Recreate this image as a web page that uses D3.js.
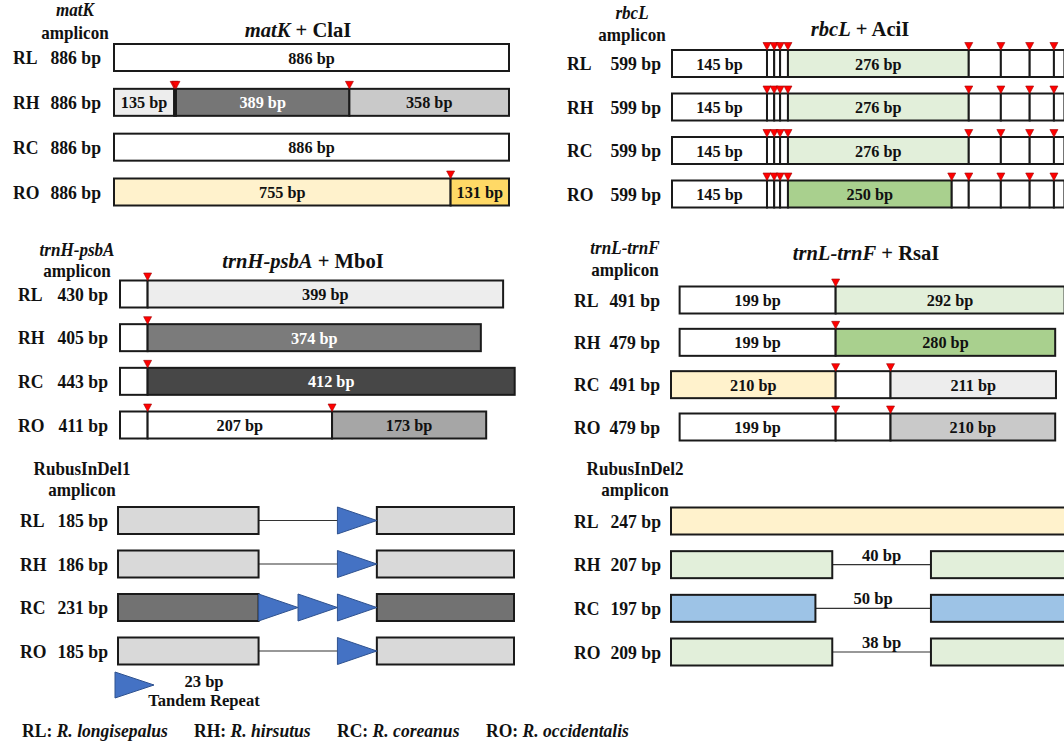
<!DOCTYPE html>
<html>
<head>
<meta charset="utf-8">
<script src="https://cdn.jsdelivr.net/npm/d3@7"></script>
<style>
  body { margin: 0; background: #fff; }
  svg text { font-family: "Liberation Serif", "Times New Roman", serif; font-weight: bold; fill: #111; }
</style>
</head>
<body>
<svg id="chart" width="1064" height="743"></svg>
<script>
// species
const species = ["RL", "RH", "RC", "RO"];
const speciesNames = ["R. longisepalus", "R. hirsutus", "R. coreanus", "R. occidentalis"];

// matK + ClaI
const matKSizes = [886, 886, 886, 886];
const matKFrags = [[886], [135, 4, 389, 358], [886], [755, 131]];

// rbcL + AciI
const rbcLSizes = [599, 599, 599, 599];
const rbcLFrags = [
  [145, 11, 9, 12, 276, 49, 44, 37, 16],
  [145, 11, 9, 12, 276, 49, 44, 37, 16],
  [145, 11, 9, 12, 276, 49, 44, 37, 16],
  [145, 11, 9, 12, 250, 26, 49, 44, 37, 16]
];

// trnH-psbA + MboI
const trnHSizes = [430, 405, 443, 411];
const trnHFrags = [[31, 399], [31, 374], [31, 412], [31, 207, 173]];

// trnL-trnF + RsaI
const trnLSizes = [491, 479, 491, 479];
const trnLFrags = [[199, 292], [199, 280], [210, 70, 211], [199, 70, 210]];

// RubusInDel1 (flanks + 23 bp tandem repeats)
const indel1Sizes = [185, 186, 231, 185];
const indel1Flanks = [82, 80];
const indel1RepeatBp = 23;
const indel1Repeats = [1, 1, 3, 1];

// RubusInDel2 (deletion start / end in aligned bp)
const indel2Sizes = [247, 207, 197, 209];
const indel2DelStart = [null, 67, 60, 67];
const indel2DelEnd = [null, 108, 108, 108];
const indel2DelBp = [null, 40, 50, 38];

// fills (styles kept apart from the data)
const W = "#ffffff";
const matKFill = [[W], ["#ededed", W, "#767676", "#c9c9c9"], [W], ["#fff2cc", "#ffd966"]];
const rbcLFill = rbcLFrags.map((f, i) => f.map((d, j) => j === 4 ? (i === 3 ? "#a9d08e" : "#e2efda") : W));
const trnHFill = [[W, "#ededed"], [W, "#7b7b7b"], [W, "#474747"], [W, W, "#a6a6a6"]];
const trnLFill = [[W, "#e2efda"], [W, "#a9d08e"], ["#fff2cc", W, "#ededed"], [W, W, "#c9c9c9"]];
const indel1Fill = ["#d9d9d9", "#d9d9d9", "#727272", "#d9d9d9"];
const indel2Fill = ["#fff2cc", "#e2efda", "#9dc3e6", "#e2efda"];
const darkFills = ["#767676", "#7b7b7b", "#474747"];

const svg = d3.select("#chart");
const BOX_H = 27;

// text drawn a little narrow, like the original figure
function txt(x, y, size, anchor, sx) {
  return svg.append("text")
    .attr("transform", `translate(${x},${y}) scale(${sx || 1},1)`)
    .attr("text-anchor", anchor || "start")
    .style("font-size", size + "px");
}

function geneLabel(cx, y1, y2, name, italic) {
  txt(cx, y1, 18, "middle", 0.95).style("font-style", italic ? "italic" : "normal").text(name);
  txt(cx, y2, 18, "middle", 0.95).text("amplicon");
}

function title(cx, y, gene, enzyme) {
  const t = txt(cx, y, 21, "middle", 0.98);
  t.append("tspan").style("font-style", "italic").text(gene);
  t.append("tspan").text(" + " + enzyme);
}

function rowLabels(y, codeX, sizeX, sizes) {
  species.forEach((s, i) => {
    txt(codeX, y(s) + 6.5, 19, "start", 0.93).text(s);
    txt(sizeX, y(s) + 6.5, 19, "end", 0.93).text(sizes[i] + " bp");
  });
}

function digest(frags, fills, x, y, offsets) {
  const g = svg.append("g");
  const marks = svg.append("g");
  species.forEach((s, i) => {
    let pos = offsets[i];
    const top = y(s) - BOX_H / 2;
    frags[i].forEach((bp, j) => {
      const x0 = x(pos), x1 = x(pos + bp);
      g.append("rect").attr("x", x0).attr("y", top).attr("width", x1 - x0).attr("height", BOX_H)
        .attr("fill", fills[i][j]).attr("stroke", "#1a1a1a").attr("stroke-width", 2);
      pos += bp;
      if (j < frags[i].length - 1) {
        const cx = x(pos);
        marks.append("path")
          .attr("d", `M${cx - 4},${top - 7.5}L${cx + 4},${top - 7.5}L${cx},${top}Z`)
          .attr("fill", "#ff0000").attr("stroke", "#a00000").attr("stroke-width", 0.6);
      }
    });
    pos = offsets[i];
    frags[i].forEach((bp, j) => {
      const x0 = x(pos), x1 = x(pos + bp);
      if (bp >= 100) {
        txt((x0 + x1) / 2, y(s) + 6, 17.5, "middle", 0.93)
          .style("fill", darkFills.includes(fills[i][j]) ? "#fff" : "#111")
          .text(bp + " bp");
      }
      pos += bp;
    });
  });
}

// ---- matK + ClaI
{
  const x = d3.scaleLinear().domain([0, 886]).range([114, 509]);
  const y = d3.scalePoint().domain(species).range([57.5, 192]);
  geneLabel(75, 16, 39, "matK", true);
  title(298, 37, "matK", "ClaI");
  rowLabels(y, 13, 101, matKSizes);
  digest(matKFrags, matKFill, x, y, [0, 0, 0, 0]);
}

// ---- rbcL + AciI
{
  const x = d3.scaleLinear().domain([0, 599]).range([672, 1064.4]);
  const y = d3.scalePoint().domain(species).range([63.5, 194]);
  geneLabel(632, 19, 41, "rbcL", true);
  title(860, 36, "rbcL", "AciI");
  rowLabels(y, 567, 661, rbcLSizes);
  digest(rbcLFrags, rbcLFill, x, y, [0, 0, 0, 0]);
}

// ---- trnH-psbA + MboI
{
  const x = d3.scaleLinear().domain([0, 443]).range([120, 514.7]);
  const y = d3.scalePoint().domain(species).range([294, 425]);
  geneLabel(77, 256, 277, "trnH-psbA", true);
  title(303, 268, "trnH-psbA", "MboI");
  rowLabels(y, 18, 108, trnHSizes);
  digest(trnHFrags, trnHFill, x, y, [0, 0, 0, 0]);
}

// ---- trnL-trnF + RsaI (rows aligned on first cut)
{
  const firstMax = d3.max(trnLFrags, f => f[0]);
  const offsets = trnLFrags.map(f => firstMax - f[0]);
  const x = d3.scaleLinear().domain([0, 502]).range([671, 1064.6]);
  const y = d3.scalePoint().domain(species).range([300, 427]);
  geneLabel(625, 254, 276, "trnL-trnF", true);
  title(866, 260, "trnL-trnF", "RsaI");
  rowLabels(y, 574, 660, trnLSizes);
  digest(trnLFrags, trnLFill, x, y, offsets);
}

function repeatTri(x0, x1, cy, h) {
  svg.append("path").attr("d", `M${x0},${cy - h / 2}L${x0},${cy + h / 2}L${x1},${cy}Z`)
    .attr("fill", "#4472c4").attr("stroke", "#2f528f").attr("stroke-width", 1);
}

// ---- RubusInDel1
{
  const maxRep = d3.max(indel1Repeats);
  const total = indel1Flanks[0] + maxRep * indel1RepeatBp + indel1Flanks[1];
  const x = d3.scaleLinear().domain([0, total]).range([118, 514]);
  const y = d3.scalePoint().domain(species).range([520.5, 651]);
  geneLabel(82, 475, 495.5, "RubusInDel1", false);
  rowLabels(y, 20, 108, indel1Sizes);
  species.forEach((s, i) => {
    const cy = y(s), top = cy - BOX_H / 2;
    const repStart = indel1Flanks[0] + (maxRep - indel1Repeats[i]) * indel1RepeatBp;
    const b2 = indel1Flanks[0] + maxRep * indel1RepeatBp;
    svg.append("line").attr("x1", x(indel1Flanks[0])).attr("x2", x(b2)).attr("y1", cy).attr("y2", cy)
      .attr("stroke", "#333").attr("stroke-width", 1.2);
    svg.append("rect").attr("x", x(0)).attr("y", top).attr("width", x(indel1Flanks[0]) - x(0)).attr("height", BOX_H)
      .attr("fill", indel1Fill[i]).attr("stroke", "#1a1a1a").attr("stroke-width", 2);
    svg.append("rect").attr("x", x(b2)).attr("y", top).attr("width", x(total) - x(b2)).attr("height", BOX_H)
      .attr("fill", indel1Fill[i]).attr("stroke", "#1a1a1a").attr("stroke-width", 2);
    for (let k = 0; k < indel1Repeats[i]; k++) {
      const a = repStart + k * indel1RepeatBp;
      repeatTri(x(a), x(a + indel1RepeatBp), cy, BOX_H);
    }
  });
  // legend
  repeatTri(115, 154, 685, 26);
  txt(204, 687, 17.5, "middle", 0.95).text(indel1RepeatBp + " bp");
  txt(204, 706, 17.5, "middle", 0.95).text("Tandem Repeat");
}

// ---- RubusInDel2
{
  const x = d3.scaleLinear().domain([0, 247]).range([671, 671 + 247 * 2.407]);
  const y = d3.scalePoint().domain(species).range([521, 652]);
  geneLabel(635, 475, 495.5, "RubusInDel2", false);
  rowLabels(y, 574, 661, indel2Sizes);
  species.forEach((s, i) => {
    const cy = y(s), top = cy - BOX_H / 2;
    const box = (a, b) => svg.append("rect").attr("x", x(a)).attr("y", top).attr("width", x(b) - x(a))
      .attr("height", BOX_H).attr("fill", indel2Fill[i]).attr("stroke", "#1a1a1a").attr("stroke-width", 2);
    if (indel2DelStart[i] === null) {
      box(0, indel2Sizes[i]);
      return;
    }
    const a = indel2DelStart[i], b = indel2DelEnd[i];
    svg.append("line").attr("x1", x(a)).attr("x2", x(b)).attr("y1", cy).attr("y2", cy)
      .attr("stroke", "#333").attr("stroke-width", 1.2);
    box(0, a);
    box(b, b + indel2Sizes[i] - a);
    txt((x(a) + x(b)) / 2, cy - 4, 17.5, "middle", 0.95).text(indel2DelBp[i] + " bp");
  });
}

// ---- species key
{
  const keyX = [22, 194, 337, 486];
  species.forEach((s, i) => {
    const t = txt(keyX[i], 737, 18.5, "start", 0.95);
    t.append("tspan").text(s + ": ");
    t.append("tspan").style("font-style", "italic").text(speciesNames[i]);
  });
}
</script>
</body>
</html>
